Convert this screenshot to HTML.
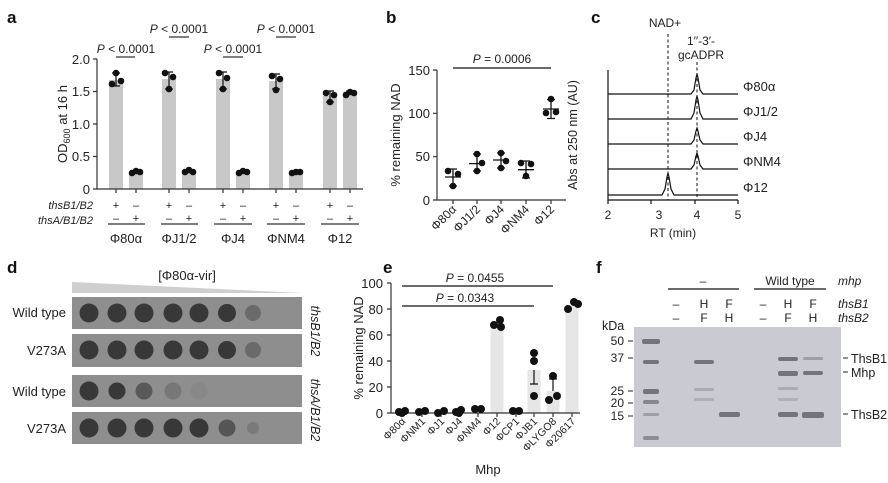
<!DOCTYPE html>
<html><head><meta charset="utf-8"><style>
html,body{margin:0;padding:0;background:#fff;}
svg{display:block;font-family:"Liberation Sans",sans-serif;}
</style></head><body>
<svg width="888" height="483" viewBox="0 0 888 483" xmlns="http://www.w3.org/2000/svg">
<g fill="#111" font-weight="bold" font-size="17">
<text x="7" y="23">a</text><text x="386" y="23">b</text><text x="591" y="23">c</text>
<text x="7" y="273">d</text><text x="383" y="273">e</text><text x="596" y="273">f</text>
</g>

<!-- Panel a -->
<g fill="#c8c8c8">
<rect x="109" y="80" width="14" height="109"/><rect x="129" y="171.5" width="14" height="17.5"/>
<rect x="162" y="79" width="14" height="110"/><rect x="182" y="171" width="14" height="18"/>
<rect x="216" y="79" width="14" height="110"/><rect x="236" y="172" width="14" height="17"/>
<rect x="269" y="81" width="14" height="108"/><rect x="289" y="172" width="14" height="17"/>
<rect x="323" y="96" width="14" height="93"/><rect x="343" y="91.5" width="14" height="97.5"/>
</g>
<g stroke="#111" stroke-width="1.2" fill="none">
<path d="M116 73V86M112 73H120M112 86H120"/>
<path d="M169 72V89M165 72H173M165 89H173"/>
<path d="M223 72V89M219 72H227M219 89H227"/>
<path d="M276 74V89M272 74H280M272 89H280"/>
<path d="M330 91V102M326 91H334M326 102H334"/>
<path d="M350 91V95M346 91H354"/>
</g>
<g fill="#111">
<circle cx="112" cy="84" r="3.3"/><circle cx="116" cy="73" r="3.3"/><circle cx="121" cy="81" r="3.3"/>
<circle cx="132" cy="173" r="3.3"/><circle cx="136" cy="171" r="3.3"/><circle cx="140" cy="172" r="3.3"/>
<circle cx="165" cy="73" r="3.3"/><circle cx="173" cy="77" r="3.3"/><circle cx="169" cy="89" r="3.3"/>
<circle cx="185" cy="172" r="3.3"/><circle cx="189" cy="170" r="3.3"/><circle cx="193" cy="172" r="3.3"/>
<circle cx="219" cy="73" r="3.3"/><circle cx="227" cy="78" r="3.3"/><circle cx="223" cy="89" r="3.3"/>
<circle cx="239" cy="173" r="3.3"/><circle cx="243" cy="171" r="3.3"/><circle cx="247" cy="172" r="3.3"/>
<circle cx="272" cy="76" r="3.3"/><circle cx="280" cy="79" r="3.3"/><circle cx="276" cy="90" r="3.3"/>
<circle cx="292" cy="173" r="3.3"/><circle cx="296" cy="172" r="3.3"/><circle cx="300" cy="172" r="3.3"/>
<circle cx="326" cy="93" r="3.3"/><circle cx="334" cy="95" r="3.3"/><circle cx="330" cy="102" r="3.3"/>
<circle cx="346" cy="95" r="3.3"/><circle cx="350" cy="92" r="3.3"/><circle cx="354" cy="93" r="3.3"/>
</g>
<g stroke="#333" stroke-width="1.2" fill="none">
<path d="M97 59V189H363"/>
<path d="M93 59H97M93 91.5H97M93 124H97M93 156.5H97M93 189H97"/>
<path d="M116 189V193M136 189V193M169 189V193M189 189V193M223 189V193M243 189V193M276 189V193M296 189V193M330 189V193M350 189V193"/>
<path d="M116 57H135M169 37H189M223 57H243M276 37H296"/>
<path d="M108 224H145M161 224H198M214 224H252M267 224H305M321 224H359"/>
</g>
<g font-size="13" fill="#222" text-anchor="end">
<text x="90" y="64">2.0</text><text x="90" y="96">1.5</text><text x="90" y="129">1.0</text><text x="90" y="161">0.5</text><text x="90" y="194">0</text>
</g>
<text transform="translate(67,124) rotate(-90)" font-size="13" fill="#222" text-anchor="middle">OD<tspan font-size="9" dy="3">600</tspan><tspan dy="-3"> at 16 h</tspan></text>
<g font-size="12" fill="#222" text-anchor="middle">
<text x="126" y="53"><tspan font-style="italic">P</tspan> &lt; 0.0001</text>
<text x="179" y="33"><tspan font-style="italic">P</tspan> &lt; 0.0001</text>
<text x="233" y="53"><tspan font-style="italic">P</tspan> &lt; 0.0001</text>
<text x="286" y="33"><tspan font-style="italic">P</tspan> &lt; 0.0001</text>
</g>
<g font-size="11" fill="#222" font-style="italic" text-anchor="end">
<text x="93" y="209">thsB1/B2</text><text x="93" y="224">thsA/B1/B2</text>
</g>
<g font-size="11" fill="#222" text-anchor="middle">
<text x="116" y="209">+</text><text x="136" y="209">–</text><text x="169" y="209">+</text><text x="189" y="209">–</text><text x="223" y="209">+</text><text x="243" y="209">–</text><text x="276" y="209">+</text><text x="296" y="209">–</text><text x="330" y="209">+</text><text x="350" y="209">–</text>
<text x="116" y="222">–</text><text x="136" y="222">+</text><text x="169" y="222">–</text><text x="189" y="222">+</text><text x="223" y="222">–</text><text x="243" y="222">+</text><text x="276" y="222">–</text><text x="296" y="222">+</text><text x="330" y="222">–</text><text x="350" y="222">+</text>
</g>
<g font-size="13" fill="#222" text-anchor="middle">
<text x="126" y="243">Φ80α</text><text x="179" y="243">ΦJ1/2</text><text x="233" y="243">ΦJ4</text><text x="286" y="243">ΦNM4</text><text x="340" y="243">Φ12</text>
</g>

<!-- Panel b -->
<g stroke="#333" stroke-width="1.2" fill="none">
<path d="M437 70V200H566"/>
<path d="M433 70H437M433 113.3H437M433 156.7H437M433 200H437"/>
<path d="M453 200V204M477 200V204M501 200V204M526 200V204M551 200V204"/>
<path d="M453 68H551" stroke="#111"/>
</g>
<g stroke="#111" stroke-width="1.3">
<path d="M445 177H461M453 169V186M449 169H457M449 186H457"/>
<path d="M469 163.6H485M477 154V171M473 154H481M473 171H481"/>
<path d="M493 160H509M501 153V168M497 153H505M497 168H505"/>
<path d="M518 169.7H534M526 161V178M522 161H530M522 178H530"/>
<path d="M543 109H559M551 99.5V118.5M547 99.5H555M547 118.5H555"/>
</g>
<g fill="#111">
<circle cx="448" cy="171" r="3.3"/><circle cx="458" cy="174" r="3.3"/><circle cx="453" cy="186" r="3.3"/>
<circle cx="477" cy="154" r="3.3"/><circle cx="482" cy="163" r="3.3"/><circle cx="477" cy="171" r="3.3"/>
<circle cx="501" cy="153" r="3.3"/><circle cx="506" cy="161" r="3.3"/><circle cx="501" cy="168" r="3.3"/>
<circle cx="521" cy="163" r="3.3"/><circle cx="531" cy="164" r="3.3"/><circle cx="526" cy="176" r="3.3"/>
<circle cx="551" cy="99" r="3.3"/><circle cx="546" cy="113" r="3.3"/><circle cx="556" cy="112" r="3.3"/>
</g>
<g font-size="13" fill="#222" text-anchor="end">
<text x="430" y="75">150</text><text x="430" y="118">100</text><text x="430" y="161">50</text><text x="430" y="205">0</text>
</g>
<text transform="translate(400,135) rotate(-90)" font-size="13" fill="#222" text-anchor="middle">% remaining NAD</text>
<text x="502" y="63" font-size="12" fill="#222" text-anchor="middle"><tspan font-style="italic">P</tspan> = 0.0006</text>
<g font-size="12" fill="#222" text-anchor="end">
<text transform="translate(457,210) rotate(-45)">Φ80α</text>
<text transform="translate(481,210) rotate(-45)">ΦJ1/2</text>
<text transform="translate(505,210) rotate(-45)">ΦJ4</text>
<text transform="translate(530,210) rotate(-45)">ΦNM4</text>
<text transform="translate(555,210) rotate(-45)">Φ12</text>
</g>

<!-- Panel c -->
<g stroke="#111" stroke-width="1" stroke-dasharray="3,2.5" fill="none">
<path d="M668 34V200M697 62V200"/>
</g>
<g stroke="#111" stroke-width="1.2" fill="none">
<path d="M608 70V200H738"/>
<path d="M608 200V204M651 200V204M695 200V204M738 200V204"/>
<path d="M608 94H691L694 90L696 78L697 74L698 78L700 90L703 94H738"/>
<path d="M608 119H691L694 113L696 100L697 96L698 100L700 113L703 119H738"/>
<path d="M608 144H691L694 140L696 131L697 128L698 131L700 140L703 144H738"/>
<path d="M608 169H691L694 165L696 156L697 153L698 156L700 165L703 169H738"/>
<path d="M608 195H662L665 189L667 177L668 173L669 177L671 189L674 195H738"/>
</g>
<g font-size="13" fill="#222">
<text x="743" y="91">Φ80α</text><text x="743" y="116">ΦJ1/2</text><text x="743" y="141">ΦJ4</text><text x="743" y="166">ΦNM4</text><text x="743" y="192">Φ12</text>
</g>
<g font-size="12" fill="#222" text-anchor="middle">
<text x="665" y="27">NAD+</text><text x="701" y="45">1′′-3′-</text><text x="701" y="59">gcADPR</text>
<text x="608" y="219">2</text><text x="659" y="219">3</text><text x="697" y="219">4</text><text x="738" y="219">5</text>
<text x="673" y="237">RT (min)</text>
</g>
<text transform="translate(577,135) rotate(-90)" font-size="12.5" fill="#222" text-anchor="middle">Abs at 250 nm (AU)</text>

<!-- Panel d -->
<path d="M72 282L302 293H72Z" fill="#cfcfcf"/>
<text x="187" y="280" font-size="13" fill="#222" text-anchor="middle">[Φ80α-vir]</text>
<g fill="#8e8e8e">
<rect x="72" y="297" width="230" height="32"/><rect x="72" y="334" width="230" height="33"/>
<rect x="72" y="375" width="230" height="32"/><rect x="72" y="412" width="230" height="32"/>
</g>
<g fill="#383838">
<circle cx="89" cy="313" r="9.5"/><circle cx="117" cy="313" r="9.5"/><circle cx="144" cy="313" r="9.5"/><circle cx="173" cy="313" r="9.5"/><circle cx="199" cy="313" r="9.5"/><circle cx="227" cy="313" r="9"/><circle cx="253" cy="313" r="8" fill="#6a6a6a"/>
<circle cx="89" cy="350" r="9.5"/><circle cx="117" cy="350" r="9.5"/><circle cx="144" cy="350" r="9.5"/><circle cx="173" cy="350" r="9.5"/><circle cx="199" cy="350" r="9.5"/><circle cx="227" cy="350" r="9"/><circle cx="253" cy="350" r="8" fill="#6a6a6a"/>
<circle cx="89" cy="391" r="9.5"/><circle cx="117" cy="391" r="8.5"/><circle cx="144" cy="391" r="8.5" fill="#595959"/><circle cx="173" cy="391" r="8.5" fill="#777"/><circle cx="199" cy="391" r="8.5" fill="#888"/>
<circle cx="89" cy="428" r="9.5"/><circle cx="117" cy="428" r="9.5"/><circle cx="144" cy="428" r="9.5"/><circle cx="173" cy="428" r="9.5"/><circle cx="199" cy="428" r="9.5"/><circle cx="227" cy="428" r="8.5" fill="#555"/><circle cx="253" cy="428" r="6" fill="#7a7a7a"/>
</g>
<g font-size="13" fill="#222" text-anchor="end">
<text x="66" y="317">Wild type</text><text x="66" y="355">V273A</text>
<text x="66" y="396">Wild type</text><text x="66" y="433">V273A</text>
</g>
<g font-size="12.5" fill="#222" font-style="italic" text-anchor="middle">
<text transform="translate(311,331) rotate(90)">thsB1/B2</text>
<text transform="translate(311,410) rotate(90)">thsA/B1/B2</text>
</g>

<!-- Panel e -->
<g fill="#e6e6e6">
<rect x="490.5" y="322" width="13" height="91"/><rect x="527.5" y="370" width="13" height="43"/>
<rect x="546.5" y="391" width="13" height="22"/><rect x="565.5" y="306" width="13" height="107"/>
</g>
<g stroke="#333" stroke-width="1.2" fill="none">
<path d="M391 283V413H580"/>
<path d="M387 283H391M387 309H391M387 335H391M387 361H391M387 387H391M387 413H391"/>
<path d="M402 413V417M422 413V417M441 413V417M459 413V417M478 413V417M497 413V417M516 413V417M534 413V417M553 413V417M572 413V417"/>
<path d="M402 286H553M402 306H534" stroke="#111"/>
<path d="M534 370V384M530 384H538M553 391V379M549 379H557" stroke="#111"/>
</g>
<g fill="#111">
<circle cx="399" cy="412" r="4"/><circle cx="405" cy="411" r="4"/><circle cx="402" cy="413" r="4"/>
<circle cx="419" cy="412" r="4"/><circle cx="425" cy="411" r="4"/>
<circle cx="438" cy="413" r="4"/><circle cx="444" cy="411" r="4"/>
<circle cx="456" cy="412" r="4"/><circle cx="461" cy="410" r="4"/><circle cx="459" cy="413" r="4"/>
<circle cx="475" cy="409" r="4"/><circle cx="481" cy="409" r="4"/>
<circle cx="494" cy="325" r="4"/><circle cx="500" cy="320" r="4"/><circle cx="501" cy="327" r="4"/>
<circle cx="513" cy="411" r="4"/><circle cx="519" cy="411" r="4"/>
<circle cx="534" cy="353" r="4"/><circle cx="534" cy="361" r="4"/><circle cx="534" cy="396" r="4"/>
<circle cx="553" cy="376" r="4"/><circle cx="549" cy="400" r="4"/><circle cx="557" cy="396" r="4"/>
<circle cx="568" cy="309" r="4"/><circle cx="574" cy="302" r="4"/><circle cx="578" cy="304" r="4"/>
</g>
<g font-size="13" fill="#222" text-anchor="end">
<text x="383" y="288">100</text><text x="383" y="314">80</text><text x="383" y="340">60</text><text x="383" y="366">40</text><text x="383" y="392">20</text><text x="383" y="418">0</text>
</g>
<text transform="translate(363,348) rotate(-90)" font-size="13" fill="#222" text-anchor="middle">% remaining NAD</text>
<g font-size="12" fill="#222" text-anchor="middle">
<text x="475" y="282"><tspan font-style="italic">P</tspan> = 0.0455</text>
<text x="465" y="302"><tspan font-style="italic">P</tspan> = 0.0343</text>
</g>
<g font-size="10.5" fill="#222" text-anchor="end">
<text transform="translate(406,422) rotate(-45)">Φ80α</text>
<text transform="translate(426,422) rotate(-45)">ΦNM1</text>
<text transform="translate(445,422) rotate(-45)">ΦJ1</text>
<text transform="translate(463,422) rotate(-45)">ΦJ4</text>
<text transform="translate(482,422) rotate(-45)">ΦNM4</text>
<text transform="translate(501,422) rotate(-45)">Φ12</text>
<text transform="translate(520,422) rotate(-45)">ΦCP1</text>
<text transform="translate(538,422) rotate(-45)">ΦJB1</text>
<text transform="translate(557,422) rotate(-45)">ΦLYGO8</text>
<text transform="translate(576,422) rotate(-45)">Φ20617</text>
</g>
<text x="488" y="474" font-size="13" fill="#222" text-anchor="middle">Mhp</text>

<!-- Panel f -->
<g font-size="12" fill="#222" text-anchor="middle">
<text x="703" y="285">–</text><text x="790" y="285">Wild type</text>
<text x="676" y="308">–</text><text x="704" y="308">H</text><text x="729" y="308">F</text><text x="763" y="308">–</text><text x="788" y="308">H</text><text x="813" y="308">F</text>
<text x="676" y="322">–</text><text x="704" y="322">F</text><text x="729" y="322">H</text><text x="763" y="322">–</text><text x="788" y="322">F</text><text x="813" y="322">H</text>
</g>
<g font-size="12" fill="#222" font-style="italic">
<text x="838" y="285">mhp</text><text x="838" y="308">thsB1</text><text x="838" y="322">thsB2</text>
</g>
<path d="M668 289H739M754 289H826" stroke="#111" stroke-width="1.2"/>
<text x="602" y="330" font-size="12.5" fill="#222">kDa</text>
<rect x="634" y="327" width="207" height="120" fill="#cacad2"/>
<g fill="#74747f">
<rect x="642" y="339" width="18" height="5" rx="2"/><rect x="643" y="360" width="16" height="4" rx="2"/>
<rect x="643" y="389" width="16" height="5" rx="2"/><rect x="643" y="400" width="16" height="4" rx="2" opacity=".8"/>
<rect x="643" y="413" width="16" height="3" rx="1" opacity=".5"/><rect x="643" y="436" width="16" height="4" rx="2" opacity=".7"/>
<rect x="694" y="360" width="20" height="4" rx="2"/>
<rect x="694" y="388" width="20" height="3" rx="1" opacity=".35"/><rect x="694" y="398" width="20" height="3" rx="1" opacity=".3"/>
<rect x="719" y="412" width="21" height="5" rx="2"/>
<rect x="778" y="357" width="20" height="4" rx="2"/><rect x="778" y="371" width="20" height="5" rx="2"/>
<rect x="778" y="387" width="20" height="3" rx="1" opacity=".35"/><rect x="778" y="398" width="20" height="3" rx="1" opacity=".3"/>
<rect x="778" y="412" width="20" height="5" rx="2"/>
<rect x="803" y="357" width="20" height="3" rx="1" opacity=".5"/><rect x="803" y="371" width="20" height="4" rx="2"/>
<rect x="802" y="412" width="22" height="6" rx="2"/>
</g>
<g font-size="12" fill="#222" text-anchor="end">
<text x="624" y="345">50</text><text x="624" y="362">37</text><text x="624" y="395">25</text><text x="624" y="407">20</text><text x="624" y="420">15</text>
</g>
<path d="M628 341H633M628 358H633M628 391H633M628 403H633M628 416H633M843 358H848M843 372H848M843 414H848" stroke="#222" stroke-width="1"/>
<g font-size="12.5" fill="#222">
<text x="851" y="363">ThsB1</text><text x="851" y="377">Mhp</text><text x="851" y="419">ThsB2</text>
</g>
</svg>
</body></html>
